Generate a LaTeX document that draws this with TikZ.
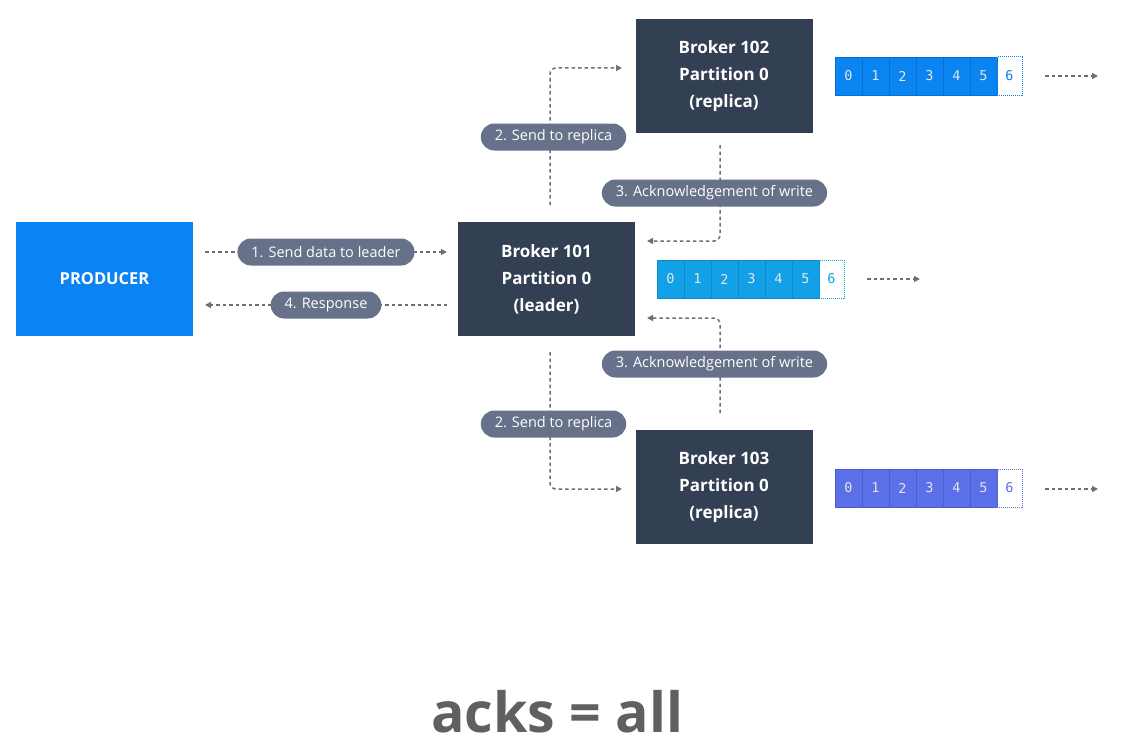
\documentclass[tikz,border=0pt]{standalone}
\usepackage{fontspec}
\setmainfont{Open Sans}
\newfontfamily\monof{DejaVu Sans Mono}
\newfontfamily\ackf{Open Sans}
\usetikzlibrary{arrows.meta}
\definecolor{prodblue}{HTML}{0A84F2}
\definecolor{brokerdark}{HTML}{333F52}
\definecolor{pillgray}{HTML}{67718A}
\definecolor{linegray}{HTML}{6B6F78}
\definecolor{arrA}{HTML}{0A84F0}
\definecolor{arrB}{HTML}{12A0E6}
\definecolor{arrC}{HTML}{5A6FE8}
\definecolor{acktext}{HTML}{5F605F}
\tikzset{
  brokerbox/.style={fill=brokerdark, minimum width=177pt, minimum height=114pt, inner sep=0pt, text=white, font=\fontsize{17}{27}\selectfont\bfseries, align=center},
  prodbox/.style={fill=prodblue, minimum width=177pt, minimum height=114pt, inner sep=0pt, text=white, font=\fontsize{16.5}{18}\selectfont\bfseries},
  pill/.style={fill=pillgray, rounded corners=13.5pt, minimum height=27pt, inner xsep=14pt, inner ysep=0pt, text=white, font=\fontsize{14.5}{16}\selectfont},
  conn/.style={draw=linegray, line width=1.5pt, dash pattern=on 3.5pt off 3pt, -{Triangle[length=6pt,width=6pt]}, rounded corners=6pt},
  cell/.style={minimum width=27pt, minimum height=38pt, inner sep=0pt, font=\fontsize{13.5}{14}\selectfont\monof, text=white!90!black},
  lastcell/.style={minimum width=25pt, minimum height=38pt, inner sep=0pt, font=\fontsize{13.5}{14}\selectfont\monof, draw, densely dotted, line width=1pt},
}
\begin{document}
\begin{tikzpicture}[x=1pt,y=-1pt]
\useasboundingbox (0,0) rectangle (1127,752);
% boxes
\node[prodbox] (prod) at (104.5,279) {PRODUCER};
\node[brokerbox] (b101) at (546.5,279) {Broker 101\\Partition 0\\(leader)};
\node[brokerbox] (b102) at (724,76) {Broker 102\\Partition 0\\(replica)};
\node[brokerbox] (b103) at (724,487) {Broker 103\\Partition 0\\(replica)};
% arrays
\foreach \name/\x/\y/\col in {arrT/835/76/arrA, arrM/657/279/arrB, arrBt/835/488/arrC}{
  \foreach \i in {0,...,5}{
    \node[cell, fill=\col, draw=\col!85!black, line width=0.4pt] (\name\i) at ({\x+13.5+27*\i},\y) {\i};
  }
  \node[lastcell, draw=\col, text=\col] (\name6) at ({\x+162+12.5},\y) {6};
}
\coordinate (tT1) at (1045,76); \coordinate (tT2) at (1098,76);
\coordinate (tM1) at (867,279); \coordinate (tM2) at (920,279);
\coordinate (tB1) at (1045,489); \coordinate (tB2) at (1098,489);
\draw[conn] (tT1) -- (tT2);
\draw[conn] (tM1) -- (tM2);
\draw[conn] (tB1) -- (tB2);
% connectors
\coordinate (p1) at (205,252); \coordinate (p2) at (447,252);
\coordinate (r1) at (447,305); \coordinate (r2) at (205,305);
\draw[conn] (p1) -- (p2);
\draw[conn] (r1) -- (r2);
\coordinate (s1a) at (550,205); \coordinate (s1b) at (550,68); \coordinate (s1c) at (622,68);
\draw[conn] (s1a) -- (s1b) -- (s1c);
\coordinate (a1a) at (720,145); \coordinate (a1b) at (720,241); \coordinate (a1c) at (647,241);
\draw[conn] (a1a) -- (a1b) -- (a1c);
\coordinate (a2a) at (720,413); \coordinate (a2b) at (720,318); \coordinate (a2c) at (647,318);
\draw[conn] (a2a) -- (a2b) -- (a2c);
\coordinate (s2a) at (550,352); \coordinate (s2b) at (550,489); \coordinate (s2c) at (622,489);
\draw[conn] (s2a) -- (s2b) -- (s2c);
% pills
\node[pill] (l1) at (326,252) {1. Send data to leader};
\node[pill] (l4) at (326,305) {4. Response};
\node[pill] (l2t) at (553.5,137) {2. Send to replica};
\node[pill] (l3t) at (714.5,193) {3. Acknowledgement of write};
\node[pill] (l3b) at (714.5,364) {3. Acknowledgement of write};
\node[pill] (l2b) at (553.5,424) {2. Send to replica};
% title
\node[text=acktext, font=\fontsize{55.5}{60}\selectfont\ackf\bfseries] (title) at (557,712) {acks = all};
\end{tikzpicture}
\end{document}
